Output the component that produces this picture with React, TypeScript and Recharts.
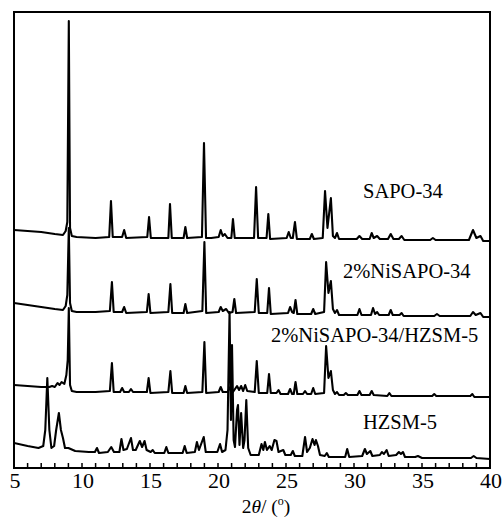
import { LineChart, Line, XAxis, YAxis, ReferenceArea } from "recharts";

// 2θ (deg) vs. stacked intensity (a.u., offset per sample)
const sapo34: [number, number][] = [
  [5, 238], [6, 237], [7, 236], [8, 234], [8.6, 233], [8.8, 237], [8.92, 246], [9.03, 447], [9.12, 240], [9.25, 232],
  [9.6, 231], [11, 230], [12, 231], [12.13, 267], [12.26, 231], [12.95, 231], [13.1, 238], [13.25, 230],
  [14.8, 231], [14.93, 251], [15.06, 230], [16.35, 230], [16.47, 264], [16.6, 230], [17.47, 230], [17.6, 241], [17.73, 230],
  [18.82, 231], [18.97, 325], [19.12, 230], [19.5, 230], [20.05, 231], [20.2, 238], [20.35, 232], [20.5, 234], [20.7, 230],
  [20.98, 230], [21.1, 249], [21.23, 230], [22.65, 230], [22.8, 281], [22.95, 230], [23.57, 230], [23.7, 254], [23.83, 229],
  [25.05, 230], [25.2, 236], [25.35, 230], [25.5, 230], [25.66, 246], [25.8, 229], [26.75, 229], [26.9, 234], [27.05, 229],
  [27.7, 230], [27.87, 277], [28.05, 240], [28.3, 270], [28.45, 232], [28.6, 230], [28.75, 235], [28.9, 229],
  [30.2, 229], [30.4, 232], [30.6, 229], [31.15, 229], [31.3, 235], [31.45, 230], [31.7, 232], [31.9, 229],
  [32.5, 229], [32.7, 234], [32.9, 229], [33.3, 229], [33.5, 232], [33.7, 228], [35.6, 228], [35.8, 230], [36, 228],
  [38.45, 228], [38.75, 238], [39, 230], [39.3, 232], [39.5, 227], [40, 227],
];

const niSapo34: [number, number][] = [
  [5, 165], [6, 163], [7, 161], [8, 159], [8.6, 158], [8.8, 162], [8.92, 173], [9.03, 240], [9.12, 165], [9.25, 157],
  [9.6, 156], [11, 156], [12.05, 157], [12.2, 186], [12.33, 156], [12.95, 156], [13.1, 161], [13.25, 155],
  [14.77, 156], [14.9, 174], [15.03, 155], [16.35, 156], [16.5, 184], [16.63, 155], [17.47, 155], [17.6, 164], [17.73, 155],
  [18.85, 157], [19, 226], [19.13, 155], [20.05, 156], [20.2, 161], [20.35, 157], [20.6, 159], [20.8, 155],
  [21.07, 156], [21.2, 169], [21.33, 155], [22.7, 156], [22.85, 189], [23, 155], [23.62, 155], [23.75, 180], [23.88, 154],
  [25.15, 155], [25.3, 161], [25.45, 156], [25.57, 155], [25.7, 168], [25.83, 154], [26.85, 154], [27, 159], [27.15, 154],
  [27.8, 156], [27.95, 206], [28.12, 175], [28.3, 187], [28.45, 159], [28.6, 155], [28.75, 158], [28.9, 153],
  [30.25, 153], [30.4, 159], [30.55, 153], [31.25, 153], [31.4, 160], [31.55, 154], [31.7, 156], [31.85, 153],
  [32.55, 153], [32.7, 158], [32.85, 153], [33.35, 153], [33.5, 155], [33.65, 152], [35.9, 152], [36.1, 154], [36.3, 152],
  [38.55, 152], [38.75, 156], [38.95, 153], [39.3, 155], [39.5, 151], [40, 151],
];

const niSapoHzsm: [number, number][] = [
  [5, 83], [6, 82], [7, 81], [7.6, 81], [7.8, 82], [8, 81], [8.2, 85], [8.35, 83], [8.5, 86], [8.7, 84], [8.85, 93],
  [8.95, 108], [9.03, 160], [9.12, 83], [9.25, 77], [9.6, 76], [11, 76], [12.05, 77], [12.2, 105], [12.33, 76],
  [12.8, 76], [12.95, 80], [13.1, 76], [13.45, 76], [13.6, 79], [13.75, 76], [14.77, 76], [14.9, 90], [15.03, 75],
  [16.35, 76], [16.5, 97], [16.63, 75], [17.47, 75], [17.6, 82], [17.73, 75], [18.85, 76], [19, 126], [19.13, 75],
  [20.05, 76], [20.2, 81], [20.35, 76], [20.7, 76], [20.95, 82], [21.1, 76], [21.4, 82], [21.55, 78], [21.7, 82],
  [21.85, 77], [22, 83], [22.15, 77], [22.7, 76], [22.85, 107], [23, 75], [23.62, 75], [23.75, 94], [23.88, 75],
  [24.3, 75], [24.45, 78], [24.6, 74], [25.15, 74], [25.3, 79], [25.45, 74], [25.57, 74], [25.7, 86], [25.83, 74],
  [26.25, 74], [26.4, 77], [26.55, 74], [26.85, 74], [27, 80], [27.15, 74], [27.8, 75], [27.95, 122], [28.12, 90],
  [28.3, 97], [28.45, 78], [28.6, 74], [28.75, 76], [28.9, 73], [29.25, 73], [29.4, 75], [29.55, 73], [30.25, 73],
  [30.4, 77], [30.55, 73], [31.15, 73], [31.3, 77], [31.45, 73], [32.45, 72], [32.6, 75], [32.75, 72], [35.75, 72],
  [35.9, 74], [36.05, 72], [38.55, 72], [38.7, 74], [38.85, 71], [40, 71],
];

const hzsm5: [number, number][] = [
  [5, 25], [6, 22], [6.8, 20], [7.15, 22], [7.3, 38], [7.45, 90], [7.6, 38], [7.75, 20], [7.95, 22], [8.1, 38],
  [8.3, 55], [8.45, 38], [8.6, 30], [8.75, 20], [9, 20], [9.5, 17], [10.5, 16], [10.95, 16], [11.1, 20], [11.25, 15],
  [11.9, 16], [12.15, 21], [12.35, 16], [12.75, 16], [12.9, 29], [13.05, 18], [13.3, 19], [13.6, 30], [13.75, 18],
  [13.95, 18], [14.25, 27], [14.42, 21], [14.6, 27], [14.75, 18], [15.05, 16], [15.2, 18], [15.35, 15], [16.05, 15],
  [16.2, 21], [16.35, 15], [17.4, 15], [17.55, 22], [17.7, 15], [18.3, 16], [18.45, 26], [18.6, 18], [18.95, 31],
  [19.1, 16], [19.95, 16], [20.15, 24], [20.3, 16], [20.55, 18], [20.7, 38], [20.85, 156], [20.95, 48], [21.03, 123],
  [21.15, 28], [21.25, 21], [21.4, 58], [21.47, 63], [21.58, 23], [21.7, 55], [21.85, 20], [21.95, 28], [22.08, 68],
  [22.22, 20], [22.4, 13], [23, 13], [23.2, 24], [23.33, 18], [23.45, 26], [23.6, 18], [23.8, 22], [23.95, 18],
  [24.15, 28], [24.3, 27], [24.45, 16], [24.8, 18], [24.95, 13], [25.35, 13], [25.5, 17], [25.65, 12], [26.2, 12],
  [26.4, 31], [26.55, 16], [26.75, 20], [26.95, 29], [27.1, 23], [27.2, 28], [27.35, 22], [27.5, 13], [27.85, 12],
  [28, 15], [28.15, 11], [29.35, 11], [29.5, 19], [29.65, 11], [30.6, 12], [30.8, 19], [30.95, 14], [31.2, 17],
  [31.35, 12], [31.9, 13], [32.05, 16], [32.2, 14], [32.4, 18], [32.55, 12], [33.1, 13], [33.3, 16], [33.45, 14],
  [33.6, 16], [33.75, 11], [34.5, 11], [34.7, 12], [35, 10], [38.6, 10], [38.8, 12], [39, 10], [40, 9],
];

const seriesNames = ["SAPO-34", "2%NiSAPO-34", "2%NiSAPO-34/HZSM-5", "HZSM-5"];
const xTicks = [5, 6, 7, 8, 9, 10, 11, 12, 13, 14, 15, 16, 17, 18, 19, 20, 21, 22, 23, 24, 25, 26, 27, 28, 29, 30,
  31, 32, 33, 34, 35, 36, 37, 38, 39, 40];

const FONT = "'Liberation Serif', 'Times New Roman', serif";

const toRows = (pts: [number, number][]) => pts.map(([x, v]) => ({ x, v }));

const Tick = (props: any) => {
  const { x, y, payload } = props;
  const val = payload.value;
  return (
    <g>
      <line x1={x} y1={y} x2={x} y2={y - 5} stroke="#000" strokeWidth={1.5} />
      {val % 5 === 0 && (
        <text x={x + 1} y={y + 20} textAnchor="middle" fontSize={22} fontFamily={FONT} fill="#000">
          {val}
        </text>
      )}
    </g>
  );
};

export default function App() {
  const series = [sapo34, niSapo34, niSapoHzsm, hzsm5];
  return (
    <div style={{ position: "absolute", left: 0, top: 0, background: "#fff" }}>
      <LineChart width={502} height={519} margin={{ top: 12, right: 12, left: 14, bottom: 21 }}>
        <XAxis
          dataKey="x"
          type="number"
          domain={[5, 40]}
          ticks={xTicks}
          interval={0}
          axisLine={false}
          tickLine={false}
          tickSize={0}
          tickMargin={0}
          height={30}
          tick={<Tick />}
          allowDataOverflow
        />
        <YAxis type="number" domain={[0, 456]} hide allowDataOverflow />
        <ReferenceArea x1={5} x2={40} y1={0} y2={456} fill="none" stroke="#000" strokeWidth={2} ifOverflow="visible" />
        {series.map((pts, i) => (
          <Line
            key={seriesNames[i]}
            data={toRows(pts)}
            dataKey="v"
            type="linear"
            dot={false}
            stroke="#000"
            strokeWidth={2.1}
            strokeLinejoin="round"
            isAnimationActive={false}
          />
        ))}
        <text x={363} y={198} fontSize={20.5} fontFamily={FONT} fill="#000">{seriesNames[0]}</text>
        <text x={343} y={278} fontSize={20.5} fontFamily={FONT} fill="#000">{seriesNames[1]}</text>
        <text x={271} y={342} fontSize={20.5} fontFamily={FONT} fill="#000">{seriesNames[2]}</text>
        <text x={363} y={429} fontSize={20.5} fontFamily={FONT} fill="#000">{seriesNames[3]}</text>
        <text x={266} y={513} textAnchor="middle" fontSize={19.5} fontFamily={FONT} fill="#000">
          2<tspan fontStyle="italic">θ</tspan>/ (<tspan fontSize={12} dy={-8}>o</tspan><tspan dy={8}>)</tspan>
        </text>
      </LineChart>
    </div>
  );
}
